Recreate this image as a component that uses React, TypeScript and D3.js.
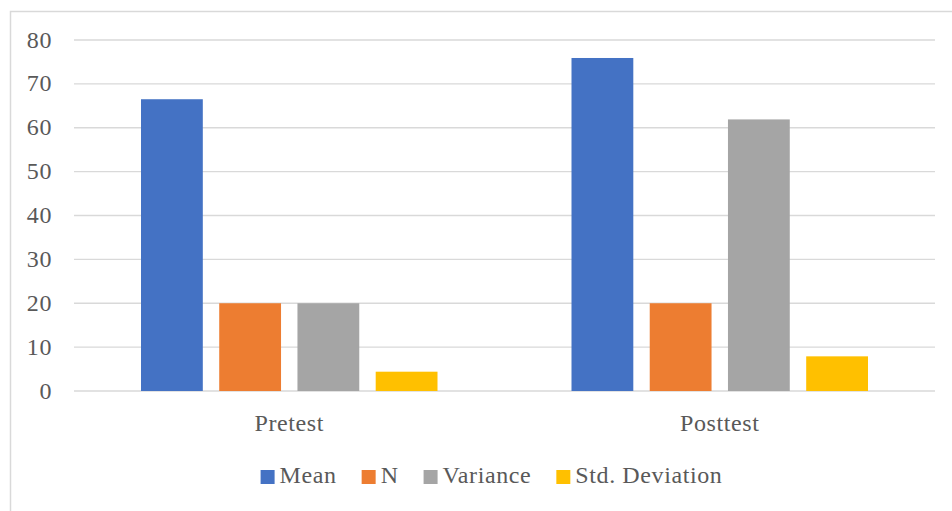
import React, { useEffect, useRef } from "react";
import * as d3 from "d3";

const categories = ["Pretest", "Posttest"];
const seriesNames = ["Mean", "N", "Variance", "Std. Deviation"];
const meanValues = [66.5, 75.9];
const nValues = [20, 20];
const varianceValues = [20, 61.9];
const stdValues = [4.4, 7.9];
const yTicks = [0, 10, 20, 30, 40, 50, 60, 70, 80];
const colors = ["#4472C4", "#ED7D31", "#A5A5A5", "#FFC000"];

const W = 952;
const H = 511;
const FONT = "'Liberation Serif', serif";
const FS = 24;
const LS = 0.6;

export default function App() {
  const ref = useRef<SVGSVGElement | null>(null);

  useEffect(() => {
    const svg = d3.select(ref.current);
    svg.selectAll("*").remove();

    const left = 74, right = 935, top = 40, bottom = 391;
    const values = [meanValues, nValues, varianceValues, stdValues];

    svg.append("rect")
      .attr("x", 10.5).attr("y", 11.5)
      .attr("width", 1000).attr("height", 1000)
      .attr("fill", "#fff").attr("stroke", "#d9d9d9").attr("stroke-width", 1.5);

    const y = d3.scaleLinear().domain([0, 80]).range([bottom, top]);
    const x0 = d3.scaleBand<string>().domain(categories).range([left, right]).padding(0);
    const outerPad = 67;
    const x1 = d3.scaleBand<string>().domain(seriesNames)
      .range([outerPad, x0.bandwidth() - outerPad]).paddingInner(0.21).paddingOuter(0);

    svg.append("g").selectAll("line").data(yTicks).join("line")
      .attr("x1", left).attr("x2", right)
      .attr("y1", (d) => y(d)).attr("y2", (d) => y(d))
      .attr("stroke", "#d9d9d9").attr("stroke-width", 1.4);

    svg.append("g").selectAll("text").data(yTicks).join("text")
      .attr("x", 52).attr("y", (d) => y(d) + 7.5)
      .attr("text-anchor", "end")
      .attr("font-family", FONT).attr("font-size", FS).attr("letter-spacing", LS).attr("fill", "#595959")
      .text((d) => String(d));

    categories.forEach((cat, ci) => {
      const g = svg.append("g").attr("transform", `translate(${x0(cat)},0)`);
      seriesNames.forEach((s, si) => {
        const v = values[si][ci];
        g.append("rect")
          .attr("x", x1(s)!)
          .attr("y", y(v))
          .attr("width", x1.bandwidth())
          .attr("height", y(0) - y(v))
          .attr("fill", colors[si]);
      });
    });

    svg.append("g").selectAll("text").data(categories).join("text")
      .attr("x", (d) => x0(d)! + x0.bandwidth() / 2)
      .attr("y", 431)
      .attr("text-anchor", "middle")
      .attr("font-family", FONT).attr("font-size", FS).attr("letter-spacing", LS).attr("fill", "#595959")
      .text((d) => d);

    const lg = svg.append("g");
    const sq = 14, gapText = 5, gapItem = 25;
    let cx = 0;
    seriesNames.forEach((s, i) => {
      const g = lg.append("g");
      g.append("rect").attr("x", 0).attr("y", -13).attr("width", sq).attr("height", sq).attr("fill", colors[i]);
      const t = g.append("text").attr("x", sq + gapText).attr("y", 0)
        .attr("font-family", FONT).attr("font-size", FS).attr("letter-spacing", LS).attr("fill", "#595959").text(s);
      const tw = (t.node() as SVGTextElement).getComputedTextLength();
      g.attr("transform", `translate(${cx},483)`);
      cx += sq + gapText + tw + gapItem;
    });
    const total = cx - gapItem;
    const start = 491.5 - total / 2;
    lg.attr("transform", `translate(${start},0)`);
  }, []);

  return (
    <svg
      ref={ref}
      width={W}
      height={H}
      style={{ position: "absolute", left: 0, top: 0, background: "#fff" }}
    />
  );
}
